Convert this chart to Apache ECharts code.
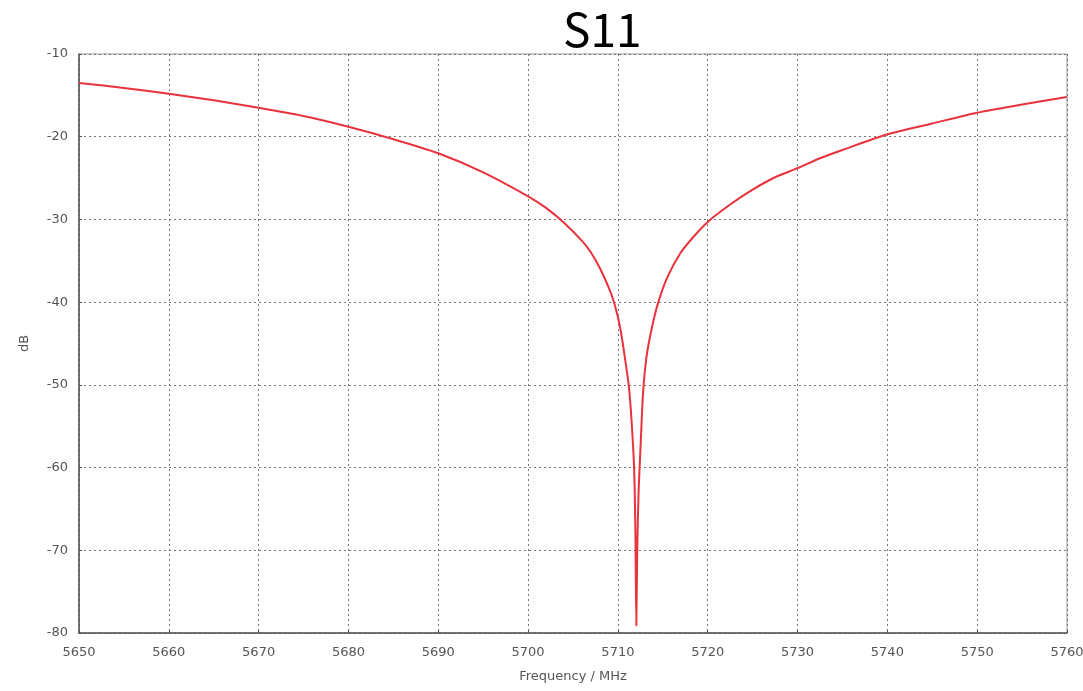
<!DOCTYPE html>
<html>
<head>
<meta charset="utf-8">
<script src="https://cdn.jsdelivr.net/npm/echarts@6/dist/echarts.min.js"></script>
<style>
	html, body { margin: 0; padding: 0; background: #fff; }
	#chart { width: 1083px; height: 691px; }
</style>
</head>
<body>
<div id="chart"></div>
<script>
// 频率 (MHz) 与 S11 (dB)
var freqs = [5650, 5655, 5660, 5665, 5670, 5675, 5680, 5685, 5690, 5695,
	5700, 5702, 5704, 5706, 5707, 5708, 5709, 5709.5, 5710, 5710.4, 5710.8,
	5711.2, 5711.5, 5711.8, 5711.95, 5712.05, 5712.15, 5712.3, 5712.5, 5712.8, 5713.2,
	5713.8, 5714.5, 5715.5, 5717, 5718.5, 5720, 5722.5, 5725, 5727.5, 5730,
	5732.5, 5735, 5740, 5745, 5750, 5755, 5760];
var s11 = [-13.5, -14.1, -14.8, -15.6, -16.5, -17.5, -18.8, -20.3, -22.0, -24.3,
	-27.2, -28.6, -30.4, -32.6, -34.0, -35.9, -38.3, -39.8, -41.8, -44.0, -46.9,
	-50, -54, -60, -68, -79.1, -70, -63, -58, -51, -46.5,
	-43, -40, -37, -34, -32, -30.3, -28.2, -26.4, -24.9, -23.8,
	-22.6, -21.6, -19.7, -18.4, -17.1, -16.1, -15.2];
var xTicks = { min: 5650, max: 5760, step: 10 };
var yTicks = { min: -80, max: -10, step: 10 };

var points = freqs.map(function(f, i) {
	return [f, s11[i]];
});

var labelFont = {
	fontFamily: 'DejaVu Sans',
	fontSize: 13,
	color: '#555'
};

echarts.init(document.getElementById('chart')).setOption({
	animation: false,
	title: {
		text: 'S11',
		left: 558,
		top: 2,
		textStyle: {
			fontFamily: 'Noto Sans CJK SC',
			fontSize: 46,
			fontWeight: 'normal',
			color: '#000'
		}
	},
	grid: {
		left: 79,
		right: 16,
		top: 54,
		bottom: 58,
		outerBoundsMode: 'none',
		containLabel: false,
		show: true,
		borderColor: '#999',
		borderWidth: 1
	},
	xAxis: {
		type: 'value',
		min: xTicks.min,
		max: xTicks.max,
		interval: xTicks.step,
		name: 'Frequency / MHz',
		nameLocation: 'middle',
		nameGap: 37,
		nameTextStyle: labelFont,
		axisLine: { lineStyle: { color: '#555', width: 1.5 } },
		axisTick: { show: true, inside: true, length: 3, lineStyle: { color: '#555' } },
		axisLabel: Object.assign({
			margin: 13,
			formatter: function(v) { return String(v); }
		}, labelFont),
		splitLine: { show: true, lineStyle: { color: '#777', type: [2, 3] } }
	},
	yAxis: {
		type: 'value',
		min: yTicks.min,
		max: yTicks.max,
		interval: yTicks.step,
		name: 'dB',
		nameLocation: 'middle',
		nameGap: 48,
		nameTextStyle: labelFont,
		axisLine: { show: true, lineStyle: { color: '#555', width: 1.5 } },
		axisTick: { show: true, inside: true, length: 3, lineStyle: { color: '#555' } },
		axisLabel: Object.assign({ margin: 11 }, labelFont),
		splitLine: { show: true, lineStyle: { color: '#777', type: [2, 3] } }
	},
	series: [{
		type: 'line',
		data: points,
		symbol: 'none',
		smooth: 0.25,
		lineStyle: { color: '#e8323c', width: 2 }
	}]
});
</script>
</body>
</html>
